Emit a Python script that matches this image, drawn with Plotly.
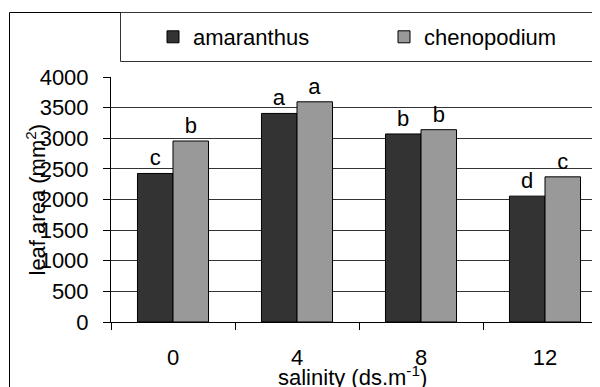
import plotly.graph_objects as go

categories = ["0", "4", "8", "12"]
amaranthus = [2425, 3405, 3070, 2055]
chenopodium = [2955, 3595, 3140, 2370]
amaranthus_letters = ["c", "a", "b", "d"]
chenopodium_letters = ["b", "a", "b", "c"]
y_ticks = [0, 500, 1000, 1500, 2000, 2500, 3000, 3500, 4000]

FONT = "Liberation Sans, Arial, sans-serif"

fig = go.Figure()
fig.add_trace(go.Bar(
    name="amaranthus", x=categories, y=amaranthus,
    text=amaranthus_letters, textposition="outside",
    textfont=dict(size=22, color="black", family=FONT),
    marker=dict(color="#333333", line=dict(color="black", width=1)),
    cliponaxis=False, legend="legend",
))
fig.add_trace(go.Bar(
    name="chenopodium", x=categories, y=chenopodium,
    text=chenopodium_letters, textposition="outside",
    textfont=dict(size=22, color="black", family=FONT),
    marker=dict(color="#999999", line=dict(color="black", width=1)),
    cliponaxis=False, legend="legend2",
))

# the page body adds an 8px offset, so the figure is shrunk by that amount
OFF = 8
W, H = 600 - OFF, 387 - OFF
L, R, T, B = 111, 0, 77, 65          # in window pixels
pw = 600 - L - R
ph = 387 - T - B

def px_x(x):
    return (x - L) / pw

def px_y(y):
    return (387 - B - y) / ph

leg_common = dict(
    orientation="h", yanchor="middle", xanchor="left",
    bgcolor="rgba(0,0,0,0)", borderwidth=0,
    font=dict(size=22, family=FONT, color="black"), itemclick=False,
)

fig.update_layout(
    width=W, height=H,
    margin=dict(l=L - OFF, r=R, t=T - OFF, b=B, pad=0),
    paper_bgcolor="white", plot_bgcolor="white",
    font=dict(family=FONT, size=22, color="black"),
    barmode="group", bargap=0.427, bargroupgap=0,
    showlegend=True,
    legend=dict(x=px_x(153), y=px_y(37), **leg_common),
    legend2=dict(x=px_x(384), y=px_y(37), **leg_common),
    xaxis=dict(
        type="category", range=[-0.5, -0.5 + pw / 124.0],
        showline=True, linecolor="black", linewidth=1,
        ticks="outside", tickson="boundaries", ticklen=7, tickcolor="black",
        tickfont=dict(size=22, family=FONT, color="black"),
        ticklabelstandoff=16, showgrid=False, zeroline=False,
    ),
    yaxis=dict(
        range=[0, 4000], tickvals=y_ticks,
        showline=True, linecolor="black", linewidth=1,
        ticks="outside", ticklen=7, tickcolor="black",
        tickfont=dict(size=22, family=FONT, color="black"),
        ticklabelstandoff=10,
        showgrid=True, gridcolor="#333333", gridwidth=1, zeroline=False,
    ),
    shapes=[
        dict(type="rect", xref="paper", yref="paper",
             x0=px_x(9.5), x1=px_x(640), y0=px_y(420), y1=px_y(12.5),
             line=dict(color="black", width=1), fillcolor="rgba(0,0,0,0)", layer="below"),
        dict(type="rect", xref="paper", yref="paper",
             x0=px_x(120.5), x1=px_x(640), y0=px_y(61.5), y1=px_y(12.5),
             line=dict(color="#333333", width=1), fillcolor="rgba(0,0,0,0)", layer="below"),
    ],
    annotations=[
        dict(text="leaf area (mm<sup>2</sup>)", xref="paper", yref="paper",
             x=px_x(35), y=0.5, textangle=-90, showarrow=False,
             xanchor="center", yanchor="middle",
             font=dict(size=22, family=FONT, color="black")),
        dict(text="salinity (ds.m<sup>-1</sup>)", xref="paper", yref="paper",
             x=px_x(352), y=px_y(376), showarrow=False,
             xanchor="center", yanchor="middle",
             font=dict(size=22, family=FONT, color="black")),
    ],
)

fig.write_html("out.html")
